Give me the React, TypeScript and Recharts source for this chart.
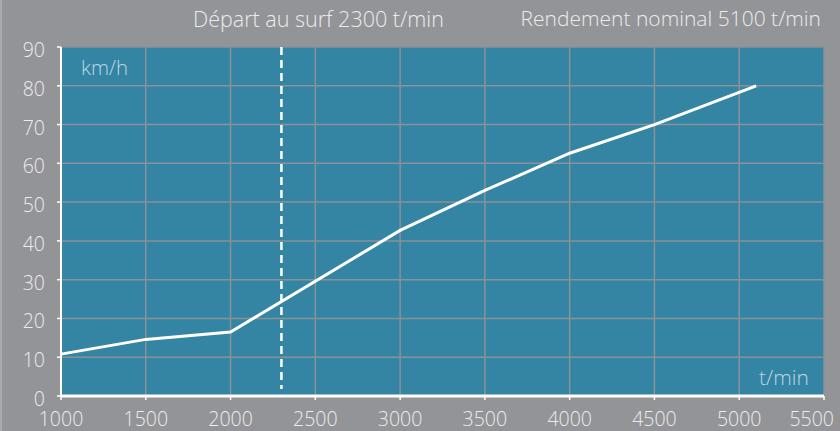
import { LineChart, Line, XAxis, YAxis, CartesianGrid, ReferenceLine } from 'recharts';

// ---- data ----
const flowRates = [1000, 1500, 2000, 3000, 3500, 4000, 4500, 5100];
const speeds = [10.8, 14.6, 16.5, 42.7, 53, 62.6, 70, 80];
const xTicks = [1000, 1500, 2000, 2500, 3000, 3500, 4000, 4500, 5000, 5500];
const yTicks = [0, 10, 20, 30, 40, 50, 60, 70, 80, 90];
const surfStart = 2300;
const nominalRate = 5100;

const chartData = flowRates.map((x, i) => ({ x, speed: speeds[i] }));

// ---- style ----
const FONT = '"Open Sans", "DejaVu Sans", sans-serif';
const BG = '#939498';
const PLOT = '#3484a3';
const GRID = '#8a9197';
const TEXT = '#ececec';
const UNIT = '#bcd8e4';

function XTick(props: any) {
  const { x, y, payload } = props;
  const last = payload.value === xTicks[xTicks.length - 1];
  return (
    <text
      x={last ? x + 10 : x}
      y={y}
      dy={24}
      textAnchor={last ? 'end' : 'middle'}
      fill={TEXT}
      fontSize={19.5}
      fontWeight={300}
      fontFamily={FONT}
    >
      {payload.value}
    </text>
  );
}

function YTick(props: any) {
  const { x, y, payload } = props;
  return (
    <text
      x={x}
      y={y}
      dy={10}
      textAnchor="end"
      fill={TEXT}
      fontSize={19.5}
      fontWeight={300}
      fontFamily={FONT}
    >
      {payload.value}
    </text>
  );
}

export default function App() {
  return (
    <div
      style={{
        position: 'fixed',
        left: 0,
        top: 0,
        width: 840,
        height: 431,
        background: BG,
        borderLeft: '2px solid #a9aaad',
        boxSizing: 'border-box',
        fontFamily: FONT,
        overflow: 'hidden',
      }}
    >
      <div
        style={{
          position: 'absolute',
          left: 191,
          top: 4,
          fontSize: 21.5,
          fontWeight: 300,
          color: TEXT,
          whiteSpace: 'nowrap',
        }}
      >
        Départ au surf {surfStart} t/min
      </div>
      <div
        style={{
          position: 'absolute',
          right: 19,
          top: 4,
          fontSize: 21,
          fontWeight: 300,
          color: TEXT,
          whiteSpace: 'nowrap',
        }}
      >
        Rendement nominal {nominalRate} t/min
      </div>
      <div style={{ position: 'absolute', left: -2, top: 0 }}>
        <LineChart
          width={840}
          height={431}
          data={chartData}
          margin={{ top: 47, right: 16, left: 0, bottom: 0 }}
        >
          <CartesianGrid fill={PLOT} fillOpacity={1} stroke={GRID} strokeWidth={1.5} />
          <XAxis
            dataKey="x"
            type="number"
            domain={[1000, 5500]}
            ticks={xTicks}
            height={35}
            axisLine={{ stroke: '#ffffff', strokeWidth: 3 }}
            tickLine={{ stroke: '#ffffff', strokeWidth: 1.5 }}
            tickSize={4}
            tick={<XTick />}
          />
          <YAxis
            type="number"
            domain={[0, 90]}
            ticks={yTicks}
            width={61}
            axisLine={{ stroke: '#ffffff', strokeWidth: 2 }}
            tickLine={{ stroke: '#ffffff', strokeWidth: 1.5 }}
            tickSize={4}
            tickMargin={12}
            tick={<YTick />}
          />
          <ReferenceLine
            segment={[
              { x: surfStart, y: 90 },
              { x: surfStart, y: 1.8 },
            ]}
            stroke="#ffffff"
            strokeWidth={2.5}
            strokeDasharray="8 5"
          />
          <Line
            type="linear"
            dataKey="speed"
            stroke="#ffffff"
            strokeWidth={3}
            dot={false}
            isAnimationActive={false}
          />
        </LineChart>
      </div>
      <div
        style={{
          position: 'absolute',
          left: 79,
          top: 53,
          fontSize: 20.5,
          fontWeight: 300,
          color: UNIT,
        }}
      >
        km/h
      </div>
      <div
        style={{
          position: 'absolute',
          left: 757,
          top: 363,
          fontSize: 21,
          fontWeight: 300,
          color: UNIT,
        }}
      >
        t/min
      </div>
    </div>
  );
}
